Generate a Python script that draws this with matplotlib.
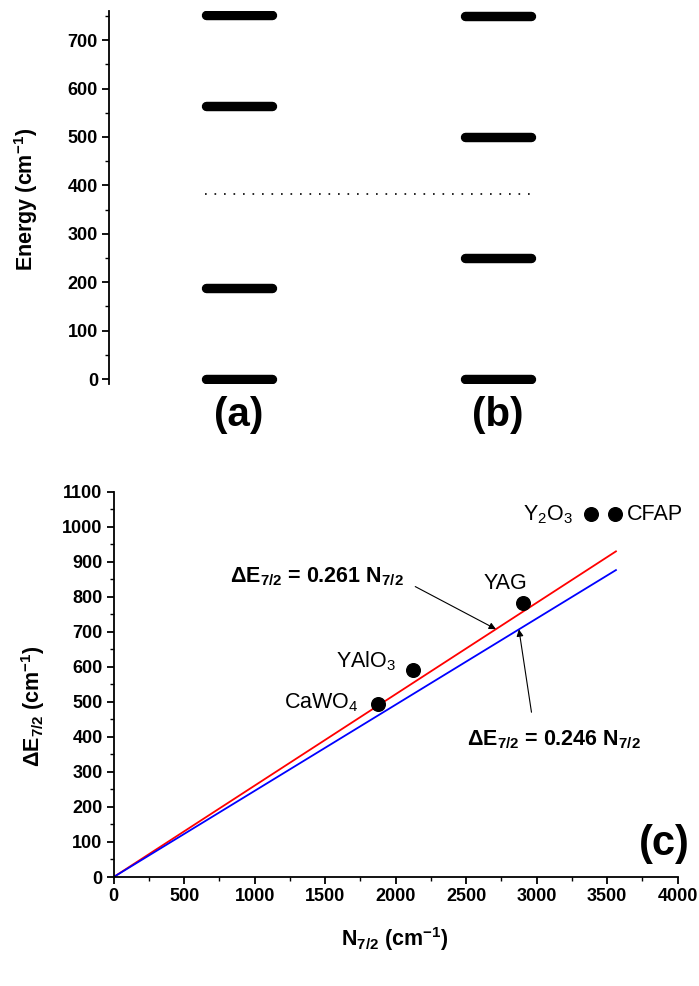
import matplotlib
matplotlib.use("Agg")
import matplotlib.pyplot as plt
import numpy as np
from matplotlib.ticker import MultipleLocator

plt.rcParams['font.family'] = ['Liberation Sans', 'DejaVu Sans']
plt.rcParams['mathtext.fontset'] = 'custom'
plt.rcParams['mathtext.rm'] = 'Liberation Sans'
plt.rcParams['mathtext.bf'] = 'Liberation Sans:bold'
plt.rcParams['mathtext.it'] = 'Liberation Sans:italic'
plt.rcParams['mathtext.default'] = 'regular'

# ---- data ----
panels = ['(a)', '(b)']
levels_a = [0, 188, 563, 751]
levels_b = [0, 250, 500, 750]
dotted_level = 383

hosts = ['CaWO$_4$', 'YAlO$_3$', 'YAG', 'Y$_2$O$_3$', 'CFAP']
N72 = [1872, 2120, 2905, 3385, 3558]
dE72 = [493, 591, 783, 1036, 1036]
slopes = [0.261, 0.246]
slope_colors = ['red', 'blue']
fit_xmax = 3562

TICK_FS = 13
LABEL_FS = 15.5

fig = plt.figure(figsize=(6.99, 9.86), dpi=100)

# ---- top panel ----
ax1 = fig.add_axes([109/699, 602/986, 500/699, 373/986])
centers = [0.259, 0.778]
half = 0.066
for c, lev in zip(centers, [levels_a, levels_b]):
    for e in lev:
        ax1.plot([c - half, c + half], [e, e], color='black', lw=6.8,
                 solid_capstyle='round')
ax1.plot([0.192, 0.848], [dotted_level, dotted_level], color='black',
         lw=1.2, linestyle=(0, (1, 4.7)))
ax1.set_xlim(0, 1)
ax1.set_ylim(-10, 760)
for s in ['top', 'right', 'bottom']:
    ax1.spines[s].set_visible(False)
ax1.spines['left'].set_linewidth(1.3)
ax1.set_xticks([])
ax1.yaxis.set_major_locator(MultipleLocator(100))
ax1.yaxis.set_minor_locator(MultipleLocator(50))
ax1.tick_params(axis='y', which='major', length=5, width=1.3, direction='out',
                labelsize=TICK_FS, pad=3)
ax1.tick_params(axis='y', which='minor', length=3, width=1.0, direction='out')
for lab in ax1.get_yticklabels():
    lab.set_fontweight('bold')
ax1.set_ylabel('Energy (cm$^{-1}$)', fontsize=LABEL_FS, fontweight='bold')
ax1.yaxis.set_label_coords(-0.138, 0.495)
for c, p in zip(centers, panels):
    ax1.text(c, -34, p, ha='center', va='top', fontsize=29, fontweight='bold')

# ---- bottom panel ----
ax2 = fig.add_axes([113.7/699, 109/986, 564/699, 385.3/986])
xf = np.array([0, fit_xmax])
for s, col in zip(slopes, slope_colors):
    ax2.plot(xf, s * xf, color=col, lw=1.3, zorder=2)
ax2.plot(N72, dE72, 'o', color='black', ms=9.8, zorder=3)
ax2.set_xlim(0, 4000)
ax2.set_ylim(0, 1100)
for s in ['top', 'right']:
    ax2.spines[s].set_visible(False)
for s in ['left', 'bottom']:
    ax2.spines[s].set_linewidth(1.3)
ax2.xaxis.set_major_locator(MultipleLocator(500))
ax2.xaxis.set_minor_locator(MultipleLocator(250))
ax2.yaxis.set_major_locator(MultipleLocator(100))
ax2.yaxis.set_minor_locator(MultipleLocator(50))
ax2.tick_params(which='major', length=5, width=1.3, direction='out',
                labelsize=TICK_FS, pad=3)
ax2.tick_params(which='minor', length=3, width=1.0, direction='out')
for lab in ax2.get_yticklabels() + ax2.get_xticklabels():
    lab.set_fontweight('bold')
ax2.set_xlabel('N$_{7/2}$ (cm$^{-1}$)', fontsize=LABEL_FS, fontweight='bold')
ax2.xaxis.set_label_coords(0.499, -0.125)
ax2.set_ylabel('ΔE$_{7/2}$ (cm$^{-1}$)', fontsize=LABEL_FS, fontweight='bold')
ax2.yaxis.set_label_coords(-0.118, 0.444)

# point labels (offsets in data units, alignment)
lab_off = {
    'CaWO$_4$': (-134, -11, 'right'),
    'YAlO$_3$': (-118, 8, 'right'),
    'YAG': (-130, 39, 'center'),
    'Y$_2$O$_3$': (-128, -17, 'right'),
    'CFAP': (85, -17, 'left'),
}
for h, x, y in zip(hosts, N72, dE72):
    dx, dy, ha = lab_off[h]
    ax2.text(x + dx, y + dy, h, ha=ha, va='baseline', fontsize=LABEL_FS)

ax2.annotate('ΔE$_{7/2}$ = 0.261 N$_{7/2}$', xy=(2711, 0.261 * 2711),
             xytext=(825, 856), textcoords='data', ha='left', va='center',
             fontsize=LABEL_FS, fontweight='bold',
             arrowprops=dict(arrowstyle='-|>', color='black', lw=0.8,
                             shrinkA=7, shrinkB=0, mutation_scale=10,
                             relpos=(1.0, 0.35)))
ax2.annotate('ΔE$_{7/2}$ = 0.246 N$_{7/2}$', xy=(2874, 0.246 * 2874),
             xytext=(2506, 391), textcoords='data', ha='left', va='center',
             fontsize=LABEL_FS, fontweight='bold',
             arrowprops=dict(arrowstyle='-|>', color='black', lw=0.8,
                             shrinkA=10, shrinkB=0, mutation_scale=10,
                             relpos=(0.385, 1.0)))
ax2.text(4087, 94, '(c)', ha='right', va='center', fontsize=30,
         fontweight='bold', clip_on=False)

fig.savefig('out.png', dpi=100)
